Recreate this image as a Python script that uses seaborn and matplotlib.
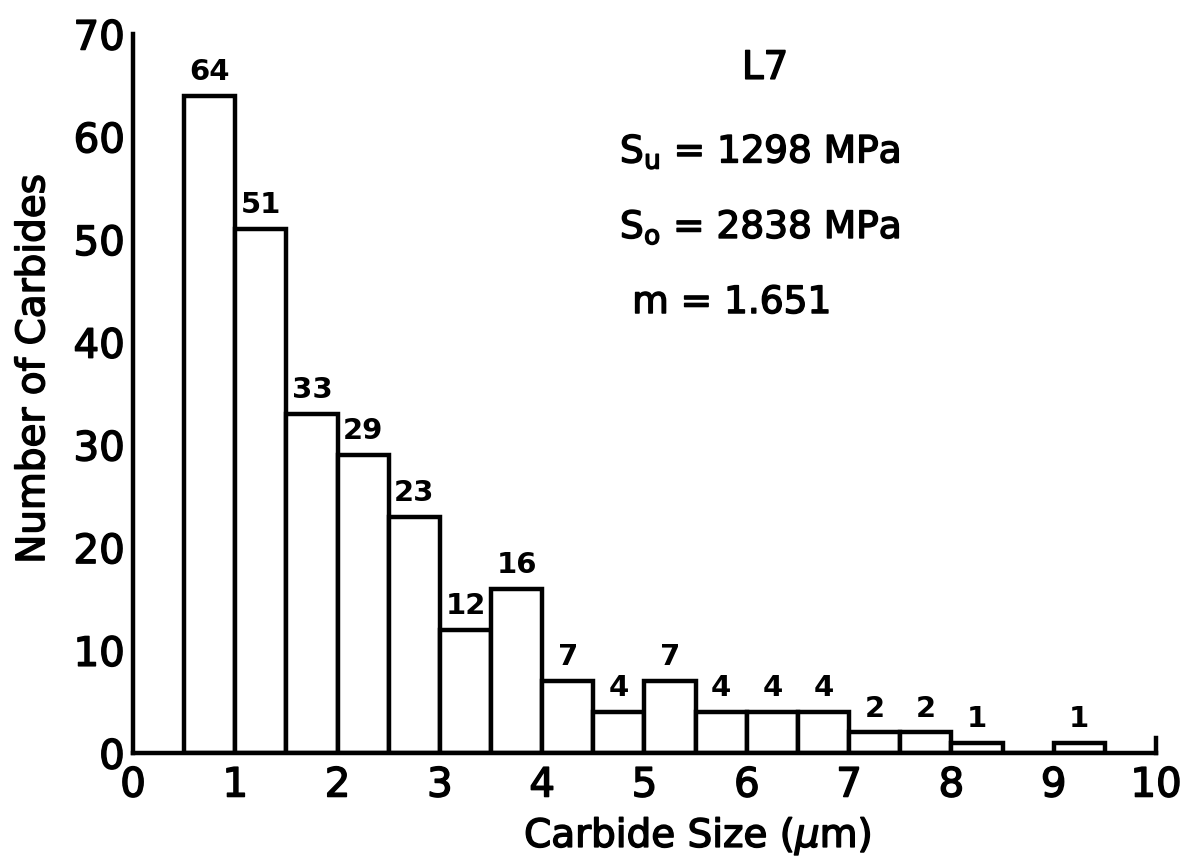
import matplotlib
matplotlib.use("Agg")
import matplotlib.pyplot as plt
import matplotlib.patheffects as pe
import seaborn as sns

# Carbide size histogram (bin midpoints in micrometres) and counts per bin
size_mid = [0.75, 1.25, 1.75, 2.25, 2.75, 3.25, 3.75, 4.25, 4.75,
            5.25, 5.75, 6.25, 6.75, 7.25, 7.75, 8.25, 8.75, 9.25]
counts = [64, 51, 33, 29, 23, 12, 16, 7, 4, 7, 4, 4, 4, 2, 2, 1, 0, 1]

x_ticks = [0, 1, 2, 3, 4, 5, 6, 7, 8, 9, 10]
y_ticks = [0, 10, 20, 30, 40, 50, 60, 70]

specimen = "L7"
stats_lines = [r"S$_\mathrm{u}$ = 1298 MPa", r"S$_\mathrm{o}$ = 2838 MPa", "m = 1.651"]

sns.set_style("white")
plt.rcParams["font.family"] = ["DejaVu Sans"]
plt.rcParams["mathtext.fontset"] = "dejavusans"
plt.rcParams["lines.solid_joinstyle"] = "round"
for key in ("text.color", "axes.labelcolor", "xtick.color", "ytick.color"):
    plt.rcParams[key] = "black"

# slightly heavier lettering, like pen-drawn labels
heavy = [pe.withStroke(linewidth=1.1, foreground="black")]

fig = plt.figure(figsize=(11.82, 8.61), dpi=100)
ax = fig.add_axes([0.1125, 0.1254, 0.8655, 0.8351])

sns.barplot(x=size_mid, y=counts, native_scale=True, width=1.0,
            color="white", saturation=1, edgecolor="black",
            linewidth=3.2, ax=ax)

ax.bar_label(ax.containers[0],
             labels=[str(c) if c else "" for c in counts],
             padding=7, fontsize=21, fontweight="bold", color="black")

ax.set_xlim(0, 10)
ax.set_ylim(0, 70)
ax.set_xticks(x_ticks)
ax.set_xticklabels([str(t) for t in x_ticks])
ax.set_yticks(y_ticks)
ax.set_yticklabels([str(t) for t in y_ticks])

ax.spines["top"].set_visible(False)
for side in ("left", "bottom", "right"):
    ax.spines[side].set_linewidth(3.2)
    ax.spines[side].set_color("black")
ax.spines["right"].set_bounds(0, 1.5)

ax.tick_params(axis="y", direction="in", length=13, width=3, pad=6,
               labelsize=29)
ax.tick_params(axis="x", length=0, pad=9, labelsize=29)
for lab in ax.get_xticklabels() + ax.get_yticklabels():
    lab.set_path_effects(heavy)

ax.set_xlabel(r"Carbide Size ($\mu$m)", fontsize=28, path_effects=heavy)
ax.xaxis.set_label_coords(0.552, -0.086)
ax.set_ylabel("Number of Carbides", fontsize=28, path_effects=heavy)
ax.yaxis.set_label_coords(-0.079, 0.534)

ax.text(0.618, 0.953, specimen, transform=ax.transAxes, fontsize=28,
        ha="center", va="center", path_effects=heavy)
ax.text(0.476, 0.821, stats_lines[0], transform=ax.transAxes, fontsize=27,
        ha="left", va="baseline", path_effects=heavy)
ax.text(0.476, 0.716, stats_lines[1], transform=ax.transAxes, fontsize=27,
        ha="left", va="baseline", path_effects=heavy)
ax.text(0.488, 0.612, stats_lines[2], transform=ax.transAxes, fontsize=27,
        ha="left", va="baseline", path_effects=heavy)

fig.savefig("out.png", dpi=100, facecolor="white")
